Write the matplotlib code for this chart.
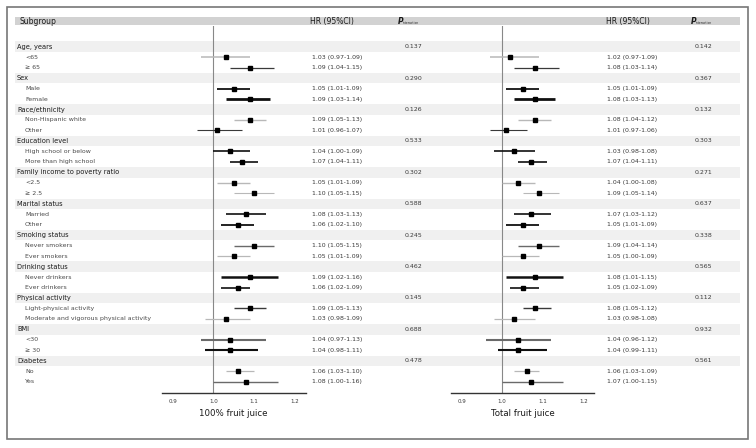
import matplotlib.pyplot as plt
from matplotlib.patches import Rectangle

plt.rcParams['font.family'] = ['DejaVu Sans']

groups = ['Age, years', 'Sex', 'Race/ethnicity', 'Education level',
          'Family income to poverty ratio', 'Marital status', 'Smoking status',
          'Drinking status', 'Physical activity', 'BMI', 'Diabetes']
subgroups = [['<65', '\u2265 65'], ['Male', 'Female'], ['Non-Hispanic white', 'Other'],
             ['High school or below', 'More than high school'], ['<2.5', '\u2265 2.5'],
             ['Married', 'Other'], ['Never smokers', 'Ever smokers'],
             ['Never drinkers', 'Ever drinkers'],
             ['Light-physical activity', 'Moderate and vigorous physical activity'],
             ['<30', '\u2265 30'], ['No', 'Yes']]

# 100% fruit juice
hr1 = [1.03, 1.09, 1.05, 1.09, 1.09, 1.01, 1.04, 1.07, 1.05, 1.10, 1.08,
       1.06, 1.10, 1.05, 1.09, 1.06, 1.09, 1.03, 1.04, 1.04, 1.06, 1.08]
lo1 = [0.97, 1.04, 1.01, 1.03, 1.05, 0.96, 1.00, 1.04, 1.01, 1.05, 1.03,
       1.02, 1.05, 1.01, 1.02, 1.02, 1.05, 0.98, 0.97, 0.98, 1.03, 1.00]
hi1 = [1.09, 1.15, 1.09, 1.14, 1.13, 1.07, 1.09, 1.11, 1.09, 1.15, 1.13,
       1.10, 1.15, 1.09, 1.16, 1.09, 1.13, 1.09, 1.13, 1.11, 1.10, 1.16]
p1 = ['0.137', '0.290', '0.126', '0.533', '0.302', '0.588', '0.245', '0.462',
      '0.145', '0.688', '0.478']

# Total fruit juice
hr2 = [1.02, 1.08, 1.05, 1.08, 1.08, 1.01, 1.03, 1.07, 1.04, 1.09, 1.07,
       1.05, 1.09, 1.05, 1.08, 1.05, 1.08, 1.03, 1.04, 1.04, 1.06, 1.07]
lo2 = [0.97, 1.03, 1.01, 1.03, 1.04, 0.97, 0.98, 1.04, 1.00, 1.05, 1.03,
       1.01, 1.04, 1.00, 1.01, 1.02, 1.05, 0.98, 0.96, 0.99, 1.03, 1.00]
hi2 = [1.09, 1.14, 1.09, 1.13, 1.12, 1.06, 1.08, 1.11, 1.08, 1.14, 1.12,
       1.09, 1.14, 1.09, 1.15, 1.09, 1.12, 1.08, 1.12, 1.11, 1.09, 1.15]
p2 = ['0.142', '0.367', '0.132', '0.303', '0.271', '0.637', '0.338', '0.565',
      '0.112', '0.932', '0.561']

ticks = [0.9, 1.0, 1.1, 1.2]

# line style of each CI (grey level / weight as in the original)
LG, DG, BK, MG = '#b8b8b8', '#3a3a3a', '#111111', '#6a6a6a'
ci_col = [LG, DG, BK, BK, LG, DG, BK, BK, LG, LG, BK,
          BK, MG, LG, BK, BK, DG, LG, MG, BK, LG, MG]
ci_lw = [1.1, 0.9, 1.3, 2.0, 1.0, 0.8, 1.2, 1.2, 1.0, 0.8, 1.2,
         1.3, 1.0, 0.9, 1.8, 1.2, 1.0, 0.9, 1.5, 1.5, 0.9, 1.0]

fig = plt.figure(figsize=(7.56, 4.48), dpi=100)
ax0 = fig.add_axes([0, 0, 1, 1])
ax0.set_xlim(0, 756)
ax0.set_ylim(448, 0)
ax0.axis('off')

# frame
ax0.add_patch(Rectangle((7, 7), 741, 432, fill=False, edgecolor='#777777', lw=1.2))

# header
ax0.add_patch(Rectangle((15, 16.7), 725, 8.6, color='#d2d2d2', lw=0))
hy = 21.1
ax0.text(19, hy, 'Subgroup', fontsize=5.5, color='#1a1a1a', va='center')
for xh, xp in [(310, 398), (606, 691)]:
    ax0.text(xh, hy, 'HR (95%CI)', fontsize=5.5, color='#1a1a1a', va='center')
    ax0.text(xp, hy, 'P', fontsize=5.5, fontweight='bold', fontstyle='italic',
             color='#1a1a1a', va='center')
    ax0.text(xp + 5, hy + 2, 'interaction', fontsize=2.2, color='#222222', va='center')

y0, dy = 46.7, 10.47
row_y = []
r = 0
for g, subs in zip(groups, subgroups):
    yg = y0 + r * dy
    ax0.add_patch(Rectangle((15, yg - dy / 2), 725, dy, color='#f0f0f0', lw=0))
    ax0.text(17, yg, g, fontsize=4.8, color='#1a1a1a', va='center')
    r += 1
    for s in subs:
        ys = y0 + r * dy
        ax0.text(25, ys, s, fontsize=4.5, color='#4a4a4a', va='center')
        row_y.append(ys)
        r += 1

gy = [y0 + i * 3 * dy for i in range(len(groups))]
for yg, a, b in zip(gy, p1, p2):
    ax0.text(405, yg, a, fontsize=4.5, color='#3a3a3a', va='center')
    ax0.text(695, yg, b, fontsize=4.5, color='#3a3a3a', va='center')


def forest(left, width, hr, lo, hi, hr_x, label):
    ax = fig.add_axes([left / 756, (448 - 392.7) / 448, width / 756, (392.7 - 26) / 448])
    ax.patch.set_alpha(0)
    ax.set_xlim(0.873, 1.227)
    ax.set_ylim(392.7, 26)
    ax.axvline(1.0, color='#888888', lw=0.8)
    for y, h, l, u, c, w in zip(row_y, hr, lo, hi, ci_col, ci_lw):
        ax.hlines(y, l, u, color=c, lw=w)
        ax.plot(h, y, 's', color='black', ms=3.4)
        ax0.text(hr_x, y, '%.2f (%.2f-%.2f)' % (h, l, u), fontsize=4.5,
                 color='#3a3a3a', va='center')
    for sp in ['top', 'left', 'right']:
        ax.spines[sp].set_visible(False)
    ax.spines['bottom'].set_color('#333333')
    ax.spines['bottom'].set_linewidth(1.0)
    ax.set_yticks([])
    ax.set_xticks(ticks)
    ax.set_xticklabels(['%.1f' % t for t in ticks])
    ax.tick_params(axis='x', length=0, pad=4.2, labelsize=4, labelcolor='#3a3a3a')
    ax.set_xlabel(label, fontsize=6.2, color='#1a1a1a', labelpad=4)
    return ax


forest(161.7, 144, hr1, lo1, hi1, 312, '100% fruit juice')
forest(450.7, 143.6, hr2, lo2, hi2, 607, 'Total fruit juice')

fig.savefig('out.png', dpi=100)
